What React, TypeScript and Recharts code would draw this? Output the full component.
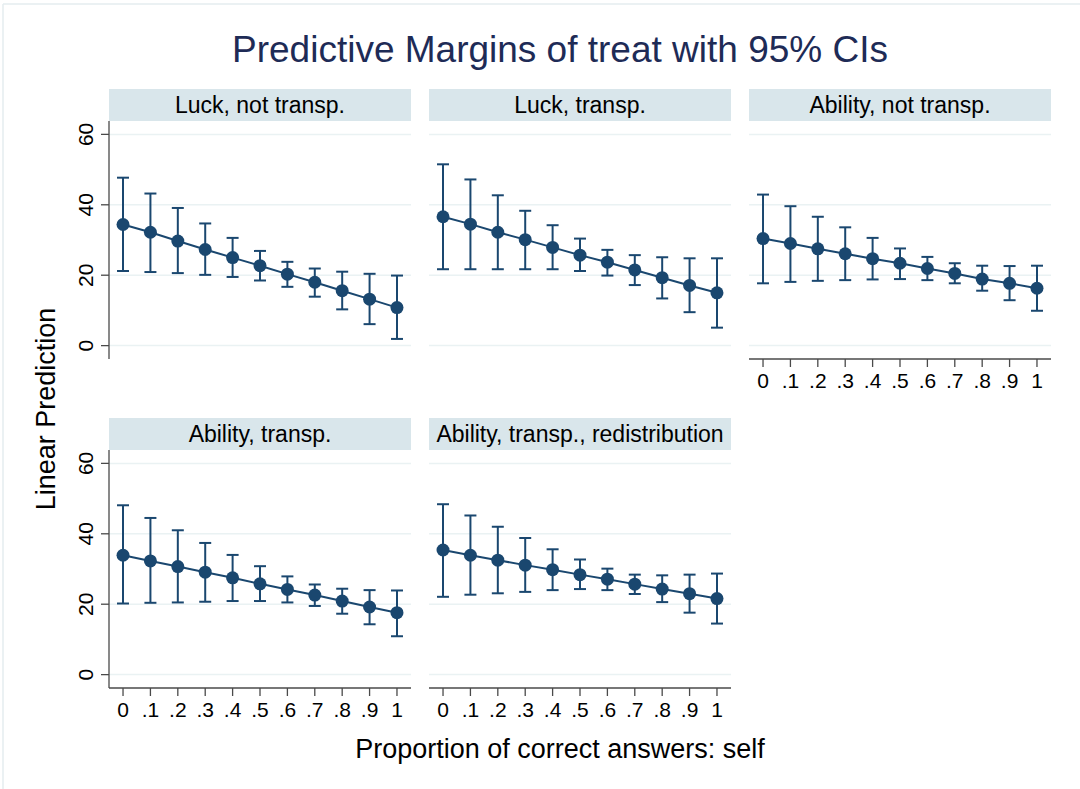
import { ComposedChart, Line, XAxis, YAxis, ErrorBar, ReferenceLine } from "recharts";

const FONT = '"Liberation Sans", Arial, Helvetica, sans-serif';
const NAVY = "#1a476f";
const GRID = "#eaf2f3";
const STRIP = "#d9e6eb";
const AXIS = "#4a4a4a";

// data
const X_VALUES = [0, 0.1, 0.2, 0.3, 0.4, 0.5, 0.6, 0.7, 0.8, 0.9, 1];
const X_LABELS = ["0", ".1", ".2", ".3", ".4", ".5", ".6", ".7", ".8", ".9", "1"];
const Y_TICKS = [0, 20, 40, 60];

const PANEL_TITLES = [
  "Luck, not transp.",
  "Luck, transp.",
  "Ability, not transp.",
  "Ability, transp.",
  "Ability, transp., redistribution",
];

const LUCK_NT_MEAN = [34.4, 32.2, 29.7, 27.3, 25.0, 22.7, 20.3, 18.0, 15.6, 13.2, 10.8];
const LUCK_NT_LO = [21.2, 20.9, 20.6, 20.1, 19.5, 18.5, 16.7, 13.9, 10.3, 6.1, 1.9];
const LUCK_NT_HI = [47.7, 43.2, 39.1, 34.7, 30.6, 26.9, 23.8, 21.9, 21.0, 20.4, 19.9];

const LUCK_T_MEAN = [36.6, 34.5, 32.2, 30.1, 27.9, 25.7, 23.7, 21.5, 19.3, 17.1, 15.0];
const LUCK_T_LO = [21.7, 21.7, 21.7, 21.7, 21.7, 21.2, 19.9, 17.2, 13.4, 9.5, 5.1];
const LUCK_T_HI = [51.5, 47.2, 42.7, 38.3, 34.2, 30.4, 27.2, 25.7, 25.1, 24.8, 24.8];

const ABIL_NT_MEAN = [30.4, 29.0, 27.5, 26.1, 24.7, 23.4, 21.9, 20.5, 18.9, 17.7, 16.3];
const ABIL_NT_LO = [17.7, 18.1, 18.4, 18.6, 18.8, 18.9, 18.6, 17.7, 15.6, 12.9, 9.9];
const ABIL_NT_HI = [42.9, 39.6, 36.6, 33.6, 30.6, 27.6, 25.2, 23.4, 22.7, 22.6, 22.7];

const ABIL_T_MEAN = [33.9, 32.3, 30.7, 29.1, 27.5, 25.8, 24.2, 22.6, 20.9, 19.2, 17.6];
const ABIL_T_LO = [20.2, 20.4, 20.5, 20.7, 20.9, 20.9, 20.5, 19.5, 17.3, 14.3, 10.9];
const ABIL_T_HI = [48.1, 44.5, 41.0, 37.4, 34.0, 30.8, 27.9, 25.6, 24.4, 24.0, 23.9];

const ABIL_TR_MEAN = [35.4, 33.9, 32.5, 31.1, 29.8, 28.4, 27.1, 25.7, 24.3, 23.0, 21.6];
const ABIL_TR_LO = [22.1, 22.7, 23.1, 23.5, 24.0, 24.3, 24.0, 22.9, 20.6, 17.6, 14.5];
const ABIL_TR_HI = [48.4, 45.2, 42.0, 38.8, 35.6, 32.7, 30.1, 28.4, 28.2, 28.4, 28.7];

// layout
const PLOT_W = 302;
const PLOT_H = 238;
const STRIP_H = 32;
const YW = 70;
const XH = 45;
const COLS = [109, 429, 749];
const ROWS = [121, 450];

const PANELS = [
  { title: PANEL_TITLES[0], mean: LUCK_NT_MEAN, lo: LUCK_NT_LO, hi: LUCK_NT_HI, col: 0, row: 0, showY: true, showX: false },
  { title: PANEL_TITLES[1], mean: LUCK_T_MEAN, lo: LUCK_T_LO, hi: LUCK_T_HI, col: 1, row: 0, showY: false, showX: false },
  { title: PANEL_TITLES[2], mean: ABIL_NT_MEAN, lo: ABIL_NT_LO, hi: ABIL_NT_HI, col: 2, row: 0, showY: false, showX: true },
  { title: PANEL_TITLES[3], mean: ABIL_T_MEAN, lo: ABIL_T_LO, hi: ABIL_T_HI, col: 0, row: 1, showY: true, showX: true },
  { title: PANEL_TITLES[4], mean: ABIL_TR_MEAN, lo: ABIL_TR_LO, hi: ABIL_TR_HI, col: 1, row: 1, showY: false, showX: true },
];

function YTick(props: any) {
  const { x, y, payload } = props;
  return (
    <text
      x={x}
      y={y}
      transform={`rotate(-90 ${x} ${y})`}
      textAnchor="middle"
      fontSize={21}
      fill="#000"
      fontFamily={FONT}
    >
      {payload.value}
    </text>
  );
}

function Panel({ title, mean, lo, hi, col, row, showY, showX }: any) {
  const data = X_VALUES.map((x, i) => ({
    x,
    mean: mean[i],
    err: [mean[i] - lo[i], hi[i] - mean[i]],
  }));
  const left = COLS[col];
  const top = ROWS[row];
  const extraLeft = showY ? YW : 0;

  return (
    <>
      <div
        style={{
          position: "absolute",
          left,
          top: top - STRIP_H,
          width: PLOT_W,
          height: STRIP_H,
          background: STRIP,
          fontFamily: FONT,
          fontSize: 23,
          lineHeight: `${STRIP_H}px`,
          textAlign: "center",
          color: "#000",
          whiteSpace: "nowrap",
        }}
      >
        {title}
      </div>
      <div style={{ position: "absolute", left: left - extraLeft, top }}>
        <ComposedChart
          width={PLOT_W + extraLeft}
          height={PLOT_H + (showX ? XH : 0)}
          data={data}
          margin={{ top: 0, right: 0, left: 0, bottom: 0 }}
        >
          <XAxis
            dataKey="x"
            type="number"
            domain={[-0.0512, 1.0512]}
            allowDataOverflow
            ticks={X_VALUES}
            interval={0}
            hide={!showX}
            height={XH}
            tickFormatter={(v: number) => X_LABELS[X_VALUES.indexOf(v)] ?? String(v)}
            tick={{ fontSize: 21, fill: "#000", fontFamily: FONT }}
            tickSize={8}
            tickMargin={6}
            axisLine={{ stroke: AXIS, strokeWidth: 1.3 }}
            tickLine={{ stroke: AXIS, strokeWidth: 1.3 }}
          />
          <YAxis
            type="number"
            domain={[-3.8, 63.8]}
            allowDataOverflow
            ticks={Y_TICKS}
            interval={0}
            hide={!showY}
            width={YW}
            tick={<YTick />}
            tickSize={8}
            tickMargin={8}
            axisLine={{ stroke: AXIS, strokeWidth: 1.3 }}
            tickLine={{ stroke: AXIS, strokeWidth: 1.3 }}
          />
          {Y_TICKS.map((t) => (
            <ReferenceLine key={t} y={t} stroke={GRID} strokeWidth={1.5} />
          ))}
          <Line
            type="linear"
            dataKey="mean"
            stroke={NAVY}
            strokeWidth={2}
            dot={{ r: 6.5, fill: NAVY, stroke: NAVY, strokeWidth: 0 }}
            activeDot={false}
            isAnimationActive={false}
          >
            <ErrorBar dataKey="err" direction="y" width={6} stroke={NAVY} strokeWidth={2} isAnimationActive={false} />
          </Line>
        </ComposedChart>
      </div>
    </>
  );
}

export default function App() {
  return (
    <div style={{ position: "absolute", left: 0, top: 0, width: 1080, height: 789, background: "#fff" }}>
      <svg width={1080} height={789} style={{ position: "absolute", left: 0, top: 0 }}>
        <line x1={3} y1={4} x2={1080} y2={4} stroke="#e4ecef" strokeWidth={1.5} />
        <line x1={3} y1={4} x2={3} y2={789} stroke="#e4ecef" strokeWidth={1.5} />
        <text x={560} y={62} textAnchor="middle" fontSize={37} fill="#1e2b56" fontFamily={FONT}>
          Predictive Margins of treat with 95% CIs
        </text>
        <text
          x={55}
          y={409}
          transform="rotate(-90 55 409)"
          textAnchor="middle"
          fontSize={27}
          fill="#000"
          fontFamily={FONT}
        >
          Linear Prediction
        </text>
        <text x={560} y={758} textAnchor="middle" fontSize={27} fill="#000" fontFamily={FONT}>
          Proportion of correct answers: self
        </text>
      </svg>
      {PANELS.map((p) => (
        <Panel key={p.title} {...p} />
      ))}
    </div>
  );
}
